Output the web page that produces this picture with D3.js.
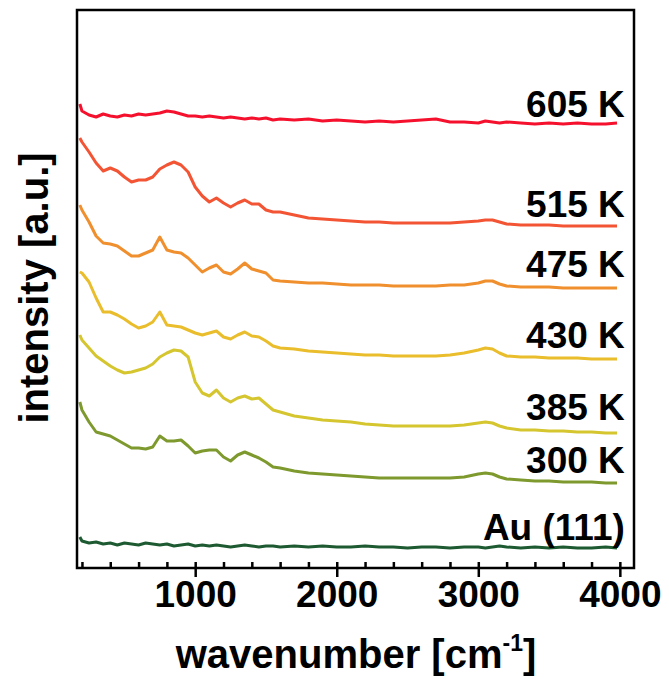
<!doctype html>
<html>
<head>
<meta charset="utf-8">
<style>
  body { margin: 0; background: #fff; }
  text { font-family: "Liberation Sans", Arial, sans-serif; font-weight: bold; fill: #000; }
  .spec { fill: none; stroke-width: 3; stroke-linejoin: round; }
</style>
<script src="https://d3js.org/d3.v7.min.js"></script>
</head>
<body>
<svg width="669" height="679" id="chart"></svg>
<script>
    // wavenumber grid [cm-1], shared by all spectra
    var wavenumber = [185, 200, 250, 300, 350, 400, 450, 500, 550, 600, 650, 700, 750, 800, 850, 900, 950,
        1000, 1050, 1100, 1150, 1200, 1250, 1300, 1350, 1400, 1450, 1500, 1550, 1600, 1700, 1800, 1900,
        2000, 2100, 2200, 2300, 2400, 2500, 2600, 2700, 2800, 2900, 3000, 3050, 3100, 3150, 3200, 3300,
        3400, 3500, 3600, 3700, 3800, 3900, 3980];

    // intensities (a.u., offset stacked)
    var i605 = [464, 457, 453, 451, 454, 452, 451, 453, 452, 454, 453, 454, 455, 457, 456, 454, 452, 452,
        451, 452, 451, 450, 451, 450, 449, 450, 449, 450, 448, 449, 448, 449, 447, 448, 447, 446, 447, 446,
        447, 448, 449, 446, 446, 445, 447, 446, 445, 446, 445, 444, 445, 444, 445, 444, 444, 445];
    var i515 = [430, 426, 416, 405, 397, 400, 397, 391, 386, 388, 388, 391, 399, 403, 406, 403, 396, 381,
        372, 366, 370, 365, 361, 365, 368, 364, 364, 358, 356, 356, 353, 350, 349, 348, 347, 346, 346, 345,
        345, 345, 345, 345, 346, 347, 348, 348, 346, 344, 343, 343, 343, 342, 342, 342, 342, 342];
    var i475 = [363, 358, 346, 332, 325, 324, 322, 317, 312, 312, 315, 318, 331, 318, 316, 315, 310, 303,
        296, 300, 303, 296, 294, 299, 305, 299, 297, 295, 288, 287, 286, 285, 285, 284, 283, 283, 283, 282,
        282, 282, 282, 283, 283, 285, 287, 287, 284, 282, 281, 281, 281, 280, 280, 280, 280, 280];
    var i430 = [296, 295, 286, 270, 256, 256, 253, 249, 244, 240, 242, 246, 256, 243, 242, 241, 238, 235,
        233, 235, 237, 231, 229, 233, 236, 232, 231, 227, 222, 220, 219, 217, 216, 215, 214, 213, 213, 212,
        212, 212, 212, 213, 215, 218, 220, 219, 215, 212, 211, 211, 210, 210, 210, 209, 209, 209];
    var i385 = [233, 228, 220, 212, 207, 202, 198, 195, 196, 198, 200, 204, 211, 215, 218, 217, 211, 186,
        175, 172, 178, 170, 166, 170, 172, 169, 170, 164, 158, 156, 152, 150, 148, 147, 146, 144, 143, 142,
        142, 142, 142, 142, 143, 145, 146, 145, 142, 140, 138, 138, 137, 137, 136, 136, 135, 135];
    var i300 = [166, 158, 146, 136, 134, 132, 128, 124, 120, 120, 119, 121, 132, 127, 127, 128, 122, 115,
        117, 118, 118, 111, 107, 113, 116, 113, 110, 106, 101, 100, 97, 95, 94, 93, 92, 91, 90, 90,
        90, 90, 90, 90, 91, 94, 95, 94, 91, 89, 88, 87, 87, 86, 86, 86, 85, 85];
    var iAu = [31, 27, 25, 26, 24, 25, 23, 25, 24, 23, 25, 24, 23, 24, 22, 23, 24, 22,
        23, 22, 23, 22, 21, 22, 23, 22, 21, 22, 22, 21, 22, 21, 22, 21, 21, 22, 21, 21,
        20, 21, 21, 20, 21, 21, 20, 21, 22, 21, 20, 21, 20, 21, 20, 20, 21, 20];

    var series = [i605, i515, i475, i430, i385, i300, iAu];
    var names = ["605 K", "515 K", "475 K", "430 K", "385 K", "300 K", "Au (111)"];
    var labelY = [451, 351, 291, 220, 148, 95, 28];
    var colors = ["#f5112d", "#f25434", "#f08f2d", "#e9bd2b", "#d5c52f", "#7e9a2e", "#1d5a31"];

    var majorTicks = [1000, 2000, 3000, 4000];
    var minorTicks = d3.range(200, 4001, 200);

    var svg = d3.select("#chart"),
        mLeft = 77, mRight = 634, mTop = 10, mBottom = 568;

    var xScale = d3.scaleLinear().domain([165, 4100]).range([mLeft, mRight]),
        yScale = d3.scaleLinear().domain([0, 558]).range([mBottom, mTop]);

    var line = d3.line()
        .x(function(d, i) { return xScale(wavenumber[i]); })
        .y(function(d) { return yScale(d); });

    svg.selectAll(".spec")
       .data(series)
       .enter().append("path")
       .attr("class", "spec")
       .attr("stroke", function(d, i) { return colors[i]; })
       .attr("d", line);

    svg.selectAll(".lab")
       .data(names)
       .enter().append("text")
       .attr("class", "lab")
       .attr("x", xScale(4035))
       .attr("y", function(d, i) { return yScale(labelY[i]); })
       .attr("text-anchor", "end")
       .attr("font-size", "37px")
       .text(function(d) { return d; });

    // minor ticks point inward, major ticks outward
    var minor = svg.append("g")
        .attr("transform", "translate(0," + mBottom + ")")
        .call(d3.axisTop(xScale).tickValues(minorTicks).tickSize(6).tickFormat(""));
    minor.select(".domain").remove();
    minor.selectAll("line").attr("stroke-width", 2.5);

    var major = svg.append("g")
        .attr("transform", "translate(0," + mBottom + ")")
        .call(d3.axisBottom(xScale).tickValues(majorTicks).tickSize(9).tickPadding(4).tickFormat(d3.format("d")));
    major.select(".domain").remove();
    major.selectAll("line").attr("stroke-width", 2.5);
    major.selectAll("text")
        .attr("font-size", "37px")
        .attr("font-family", "Liberation Sans, Arial, sans-serif")
        .attr("font-weight", "bold")
        .attr("fill", "#000");

    svg.append("rect")
       .attr("x", mLeft).attr("y", mTop)
       .attr("width", mRight - mLeft).attr("height", mBottom - mTop)
       .attr("fill", "none").attr("stroke", "#000").attr("stroke-width", 2.5);

    var xt = svg.append("text")
       .attr("x", 356).attr("y", 668)
       .attr("text-anchor", "middle")
       .attr("font-size", "40px");
    xt.append("tspan").text("wavenumber [cm");
    xt.append("tspan").attr("font-size", "23px").attr("dy", -17).text("-1");
    xt.append("tspan").attr("dy", 17).text("]");

    svg.append("text")
       .attr("transform", "translate(48,288) rotate(-90)")
       .attr("text-anchor", "middle")
       .attr("font-size", "40px")
       .text("intensity [a.u.]");
</script>
</body>
</html>
